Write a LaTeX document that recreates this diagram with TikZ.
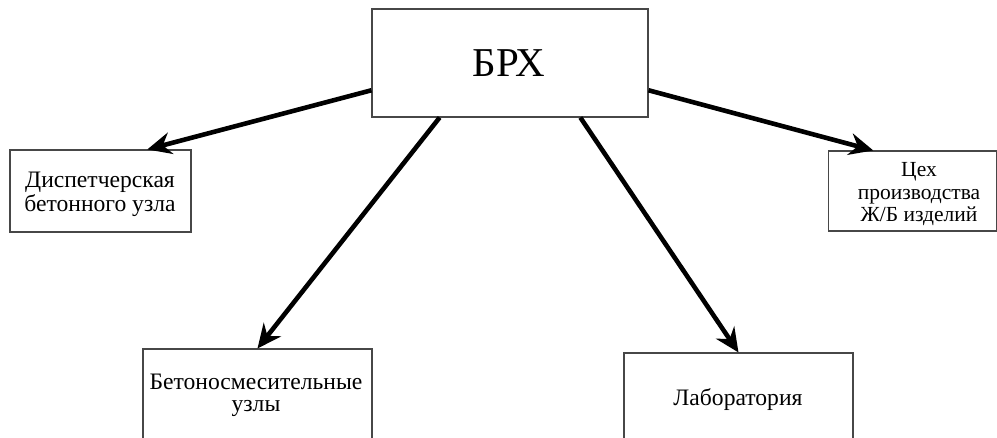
\documentclass[tikz,border=0pt]{standalone}
\usepackage{fontspec}
\setmainfont{Liberation Serif}
\usetikzlibrary{arrows.meta,calc}
\begin{document}
\begin{tikzpicture}[x=1pt,y=-1pt,
  box/.style={draw=black!72,line width=1.1pt,fill=white,inner sep=0pt},
  caption/.style={inner sep=0pt,align=center,anchor=base},
  link/.style={line width=4.6pt,line cap=butt,
    -{Stealth[length=24pt,width=22pt,inset=8pt]}}]
  \useasboundingbox (0,0) rectangle (997,438);
  \clip (0,0) rectangle (997,438);
  \fill[white] (0,0) rectangle (997,438);

  % head unit
  \node[box,minimum width=276pt,minimum height=108pt] (top) at (510,63) {};
  \node[caption,font=\fontsize{41}{46}\selectfont] (toptext) at (509,77) {БРХ};

  % subordinate units (captions are placed by the baseline of their last line)
  \node[box,minimum width=181pt,minimum height=82pt] (disp) at (100.5,191) {};
  \node[caption,font=\fontsize{23.6}{24}\selectfont] (disptext) at (100,212)
    {Диспетчерская\\бетонного узла};

  \node[box,minimum width=168pt,minimum height=80pt] (shop) at (912.5,191) {};
  \node[caption,font=\fontsize{21.5}{22.5}\selectfont] (shoptext) at (919,222)
    {Цех\\производства\\Ж/Б изделий};

  \node[box,minimum width=229pt,minimum height=94pt] (mix) at (257.5,396) {};
  \node[caption,font=\fontsize{23.6}{22}\selectfont] (mixtext) at (256,412)
    {Бетоносмесительные\\узлы};

  \node[box,minimum width=229pt,minimum height=96pt] (lab) at (738.5,401) {};
  \node[caption,font=\fontsize{23.6}{24}\selectfont] (labtext) at (738,406)
    {Лаборатория};

  % subordination links
  \draw[link] ($(top.south west)!0.25!(top.north west)$) --
              ($(disp.north west)!0.757!(disp.north east)$);
  \draw[link] ($(top.south west)!0.246!(top.south east)$) -- (mix.north);
  \draw[link] ($(top.south west)!0.754!(top.south east)$) -- (lab.north);
  \draw[link] ($(top.south east)!0.25!(top.north east)$) --
              ($(shop.north west)!0.268!(shop.north east)$);
\end{tikzpicture}
\end{document}
